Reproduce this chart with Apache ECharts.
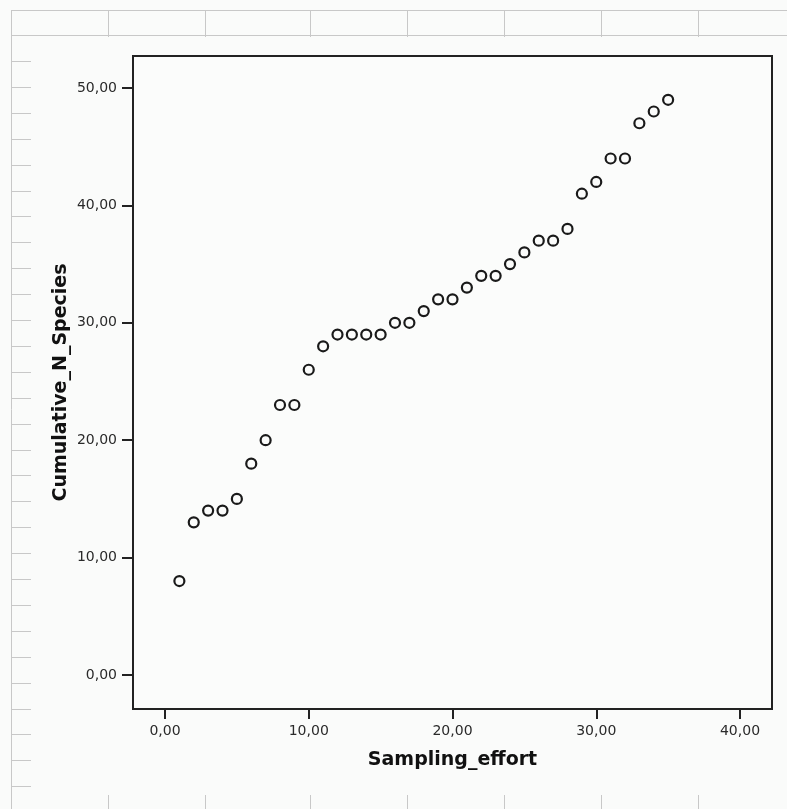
<!DOCTYPE html>
<html>
<head>
<meta charset="utf-8">
<script src="https://cdn.jsdelivr.net/npm/echarts@6/dist/echarts.min.js"></script>
<style>
  html, body { margin: 0; padding: 0; background: #fafbfa; }
  #chart { width: 787px; height: 809px; }
</style>
</head>
<body>
<div id="chart"></div>
<script>
// ---- data ----
const samplingEffort = [1, 2, 3, 4, 5, 6, 7, 8, 9, 10, 11, 12, 13, 14, 15, 16, 17, 18, 19, 20,
                        21, 22, 23, 24, 25, 26, 27, 28, 29, 30, 31, 32, 33, 34, 35];
const cumulativeSpecies = [8, 13, 14, 14, 15, 18, 20, 23, 23, 26, 28, 29, 29, 29, 29, 30, 30, 31, 32, 32,
                           33, 34, 34, 35, 36, 37, 37, 38, 41, 42, 44, 44, 47, 48, 49];
const xTicks = [0, 10, 20, 30, 40];
const yTicks = [0, 10, 20, 30, 40, 50];
const xTitle = 'Sampling_effort';
const yTitle = 'Cumulative_N_Species';

const points = samplingEffort.map((x, i) => [x, cumulativeSpecies[i]]);
const fmt = v => v.toFixed(2).replace('.', ',');

// ---- decorative ruler (SPSS editor frame) ----
const rulerColor = '#c8c8c8';
const deco = [];
const line = (x1, y1, x2, y2) => deco.push({
  type: 'line', silent: true,
  shape: { x1, y1, x2, y2 },
  style: { stroke: rulerColor, lineWidth: 1 }
});
line(11, 10.5, 787, 10.5);
line(11, 35.5, 787, 35.5);
line(11.5, 10, 11.5, 809);
[108, 205, 310, 407, 504, 601, 698].forEach(x => {
  line(x + 0.5, 10, x + 0.5, 37);
  line(x + 0.5, 795, x + 0.5, 809);
});
for (let k = 0; k <= 28; k++) {
  const y = Math.round(61 + k * 25.9) + 0.5;
  line(11, y, 31, y);
}

const chart = echarts.init(document.getElementById('chart'), null, { renderer: 'canvas' });
chart.setOption({
  backgroundColor: '#fafbfa',
  animation: false,
  graphic: deco,
  grid: {
    left: 133, top: 56, right: 15, bottom: 100,
    show: true, borderColor: '#222', borderWidth: 2, backgroundColor: '#fbfcfb'
  },
  xAxis: {
    type: 'value',
    min: -2.226, max: 42.226,
    name: xTitle,
    nameLocation: 'middle',
    nameGap: 42,
    nameMoveOverlap: false,
    nameTextStyle: { fontFamily: 'DejaVu Sans', fontWeight: 'bold', fontSize: 19, color: '#111' },
    axisLine: { show: true, onZero: false, lineStyle: { color: '#222', width: 2 } },
    axisTick: { show: true, inside: false, length: 10, lineStyle: { color: '#222', width: 2 }, customValues: xTicks },
    axisLabel: { customValues: xTicks, formatter: fmt, margin: 15,
                 fontFamily: 'DejaVu Sans', fontSize: 14, color: '#2a2a2a' },
    splitLine: { show: false }
  },
  yAxis: {
    type: 'value',
    min: -2.9, max: 52.73,
    name: yTitle,
    nameLocation: 'middle',
    nameRotate: 90,
    nameGap: 62,
    nameMoveOverlap: false,
    nameTextStyle: { fontFamily: 'DejaVu Sans', fontWeight: 'bold', fontSize: 19, color: '#111' },
    axisLine: { show: true, onZero: false, lineStyle: { color: '#222', width: 2 } },
    axisTick: { show: true, inside: false, length: 11, lineStyle: { color: '#222', width: 2 }, customValues: yTicks },
    axisLabel: { customValues: yTicks, formatter: fmt, margin: 16,
                 fontFamily: 'DejaVu Sans', fontSize: 14, color: '#2a2a2a' },
    splitLine: { show: false }
  },
  series: [{
    type: 'scatter',
    data: points,
    symbol: 'circle',
    symbolSize: 10,
    itemStyle: { color: 'rgba(0,0,0,0)', borderColor: '#1a1a1a', borderWidth: 2.2, opacity: 1 }
  }]
});
</script>
</body>
</html>
